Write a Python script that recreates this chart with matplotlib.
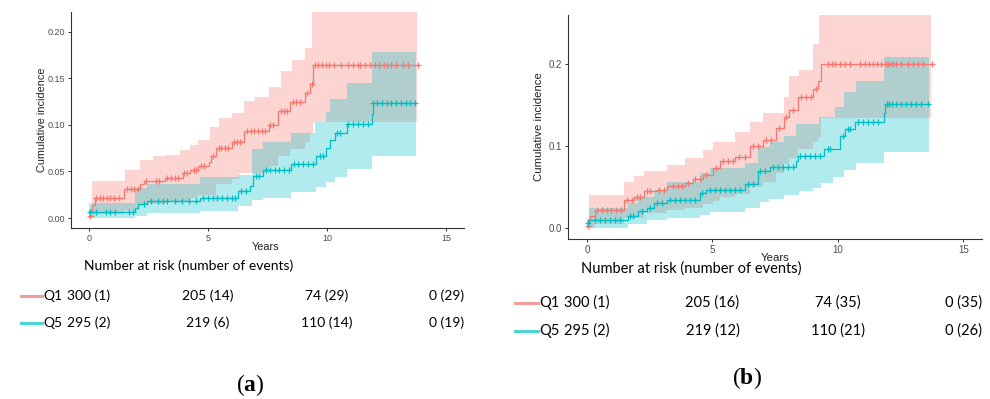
import numpy as np
import matplotlib
matplotlib.use("Agg")
import matplotlib.pyplot as plt
import matplotlib.transforms as mtransforms

plt.rcParams['mathtext.fontset'] = 'custom'
plt.rcParams['mathtext.bf'] = 'Liberation Serif:bold'
plt.rcParams['mathtext.rm'] = 'Liberation Serif'

RED = '#F8766D'
CYAN = '#00BFC4'

# ---------------- panel (a) ----------------
a_q1_t = [0, 0.06, 0.15, 0.27, 1.46, 2.16, 2.32, 3.18, 3.95, 4.26, 4.6, 5.03, 5.13, 5.33,
          6.0, 6.5, 7.55, 7.92, 8.46, 9.09, 9.3, 9.41, 13.82]
a_q1_y = [0.002, 0.007, 0.014, 0.022, 0.031, 0.036, 0.040, 0.043, 0.048, 0.052, 0.056, 0.060,
          0.066, 0.075, 0.081, 0.093, 0.100, 0.115, 0.124, 0.134, 0.144, 0.164, 0.164]
a_q1_hi_t = [0, 0.12, 1.53, 2.16, 2.71, 3.21, 3.84, 4.26, 4.6, 5.1, 5.45, 6.0, 6.5, 6.99,
             7.55, 8.08, 8.54, 9.09, 9.36, 13.78]
a_q1_hi_y = [0.010, 0.040, 0.051, 0.062, 0.066, 0.068, 0.073, 0.078, 0.084, 0.098, 0.107,
             0.113, 0.125, 0.130, 0.140, 0.158, 0.169, 0.182, 0.260, 0.260]
a_q1_lo_t = [0, 0.27, 1.46, 2.16, 3.18, 4.26, 4.6, 5.33, 6.0, 6.3, 7.55, 7.92, 8.46, 9.09,
             9.3, 9.41, 13.78]
a_q1_lo_y = [0.0, 0.004, 0.009, 0.015, 0.018, 0.021, 0.025, 0.036, 0.042, 0.048, 0.056, 0.066,
             0.074, 0.082, 0.090, 0.103, 0.103]

a_q5_t = [0, 1.95, 2.05, 2.44, 4.68, 6.25, 6.78, 6.88, 7.3, 8.5, 9.54, 9.96, 10.14, 10.32,
          10.84, 11.89, 11.93, 13.74]
a_q5_y = [0.006, 0.011, 0.015, 0.018, 0.022, 0.029, 0.034, 0.045, 0.051, 0.058, 0.066, 0.075,
          0.084, 0.091, 0.101, 0.112, 0.123, 0.123]
a_q5_hi_t = [0, 1.95, 2.44, 4.68, 6.25, 6.85, 7.3, 8.5, 9.5, 9.96, 10.14, 10.84, 11.89, 13.74]
a_q5_hi_y = [0.016, 0.032, 0.037, 0.044, 0.046, 0.074, 0.081, 0.091, 0.103, 0.114, 0.128,
             0.145, 0.178, 0.178]
a_q5_lo_t = [0, 1.95, 2.44, 4.68, 6.25, 6.85, 7.3, 8.5, 9.54, 9.96, 10.32, 10.84, 11.89, 13.74]
a_q5_lo_y = [0.0, 0.002, 0.005, 0.008, 0.013, 0.019, 0.021, 0.028, 0.033, 0.039, 0.044, 0.053,
             0.067, 0.067]

a_q1_cens = [0.05, 0.3, 0.45, 0.6, 0.75, 0.9, 1.05, 1.25, 1.6, 1.75, 1.9, 2.05, 2.4, 2.8, 2.95,
             3.3, 3.45, 3.6, 3.75, 4.0, 4.1, 4.4, 4.5, 4.7, 4.85, 5.2, 5.45, 5.55, 5.7, 5.85,
             6.1, 6.2, 6.35, 6.65, 6.8, 6.95, 7.1, 7.25, 7.4, 7.6, 7.75, 8.05, 8.2, 8.3, 8.55,
             8.7, 8.85, 9.15, 9.35, 9.5, 9.6, 9.8, 9.95, 10.1, 10.3, 10.6, 10.9, 11.1, 11.3,
             11.4, 11.6, 11.8, 12.0, 12.2, 12.4, 12.5, 12.7, 12.9, 13.2, 13.4, 13.8]
a_q5_cens = [0.05, 0.3, 0.7, 0.9, 1.1, 1.7, 1.85, 2.3, 2.6, 2.9, 3.1, 3.3, 3.6, 3.9, 4.2, 4.5,
             4.8, 5.0, 5.2, 5.4, 5.6, 5.8, 6.0, 6.15, 6.4, 6.6, 7.0, 7.15, 7.45, 7.6, 7.8, 8.0,
             8.2, 8.4, 8.6, 8.8, 9.0, 9.2, 9.4, 9.7, 9.85, 10.4, 10.55, 10.9, 11.1, 11.3, 11.5,
             11.7, 11.95, 12.1, 12.3, 12.5, 12.7, 12.9, 13.1, 13.3, 13.5, 13.7]

a_risk_q1 = [300, 205, 74, 0]
a_events_q1 = [1, 14, 29, 29]
a_risk_q5 = [295, 219, 110, 0]
a_events_q5 = [2, 6, 14, 19]

# ---------------- panel (b) ----------------
b_q1_t = [0, 0.04, 0.1, 0.33, 1.46, 1.86, 2.28, 2.78, 3.17, 3.9, 4.23, 4.63, 5.03, 5.29, 5.89,
          6.5, 7.01, 7.54, 7.87, 8.07, 8.4, 9.0, 9.19, 9.33, 13.76]
b_q1_y = [0.002, 0.010, 0.015, 0.022, 0.034, 0.038, 0.045, 0.047, 0.051, 0.055, 0.060, 0.065,
          0.073, 0.082, 0.087, 0.100, 0.107, 0.122, 0.136, 0.144, 0.160, 0.170, 0.180, 0.200,
          0.200]
b_q1_hi_t = [0, 0.07, 1.46, 1.86, 2.28, 3.17, 3.9, 4.63, 5.03, 5.89, 6.5, 7.01, 7.87, 8.07,
             8.47, 9.0, 9.26, 13.72]
b_q1_hi_y = [0.010, 0.040, 0.0565, 0.063, 0.070, 0.077, 0.085, 0.095, 0.105, 0.1175, 0.130,
             0.140, 0.160, 0.185, 0.193, 0.225, 0.300, 0.300]
b_q1_lo_t = [0, 0.33, 1.46, 2.28, 3.17, 3.9, 4.63, 5.03, 5.29, 5.89, 6.5, 7.01, 7.54, 7.87,
             8.07, 8.4, 9.0, 9.19, 9.33, 13.72]
b_q1_lo_y = [0.0, 0.005, 0.012, 0.018, 0.022, 0.025, 0.029, 0.033, 0.038, 0.042, 0.050, 0.056,
             0.067, 0.078, 0.085, 0.097, 0.105, 0.110, 0.134, 0.134]

b_q5_t = [0, 0.07, 1.65, 2.05, 2.38, 2.65, 3.17, 4.5, 4.76, 6.3, 6.8, 7.3, 8.33, 8.4, 9.43,
          10.1, 10.3, 10.7, 11.84, 11.88, 13.62]
b_q5_y = [0.006, 0.010, 0.015, 0.021, 0.025, 0.030, 0.034, 0.043, 0.047, 0.054, 0.069, 0.075,
          0.082, 0.088, 0.096, 0.112, 0.121, 0.129, 0.140, 0.151, 0.151]
b_q5_hi_t = [0, 0.07, 1.65, 2.05, 2.65, 3.17, 4.5, 4.9, 6.3, 6.8, 7.3, 7.87, 8.33, 9.26, 9.9,
             10.26, 10.72, 11.84, 13.62]
b_q5_hi_y = [0.012, 0.024, 0.030, 0.038, 0.046, 0.0565, 0.067, 0.073, 0.079, 0.099, 0.105,
             0.112, 0.127, 0.136, 0.148, 0.166, 0.180, 0.209, 0.209]
b_q5_lo_t = [0, 1.65, 2.38, 3.17, 4.5, 4.9, 6.3, 6.88, 7.27, 7.87, 8.47, 9.0, 9.33, 9.8, 10.26,
             10.72, 11.84, 13.62]
b_q5_lo_y = [0.0, 0.005, 0.010, 0.012, 0.016, 0.019, 0.024, 0.032, 0.036, 0.040, 0.045, 0.049,
             0.055, 0.0626, 0.0707, 0.079, 0.093, 0.093]

b_q1_cens = [0.03, 0.4, 0.6, 0.8, 0.95, 1.15, 1.35, 1.6, 1.8, 1.98, 2.1, 2.4, 2.5, 2.85, 3.05,
             3.44, 3.64, 3.8, 4.03, 4.3, 4.5, 4.76, 5.16, 5.42, 5.62, 5.82, 6.06, 6.28, 6.61,
             6.81, 7.14, 7.34, 7.67, 7.94, 8.2, 8.53, 8.73, 8.93, 9.13, 9.6, 9.75, 9.9, 10.1,
             10.3, 10.5, 10.9, 11.1, 11.25, 11.4, 11.55, 11.7, 11.9, 12.0, 12.1, 12.2, 12.3,
             12.5, 12.8, 13.0, 13.2, 13.4, 13.75]
b_q5_cens = [0.03, 0.3, 0.5, 0.7, 0.9, 1.1, 1.3, 1.7, 1.85, 2.2, 2.5, 2.8, 3.0, 3.3, 3.5, 3.7,
             3.9, 4.1, 4.3, 4.6, 4.9, 5.1, 5.3, 5.5, 5.7, 5.9, 6.1, 6.4, 6.6, 6.9, 7.1, 7.4,
             7.6, 7.8, 8.0, 8.2, 8.5, 8.7, 8.9, 9.1, 9.3, 9.6, 9.7, 10.2, 10.4, 10.5, 10.8,
             11.0, 11.2, 11.4, 11.6, 11.95, 12.05, 12.15, 12.3, 12.5, 12.7, 12.9, 13.1, 13.3,
             13.6]

b_risk_q1 = [300, 205, 74, 0]
b_events_q1 = [1, 16, 35, 35]
b_risk_q5 = [295, 219, 110, 0]
b_events_q5 = [2, 12, 21, 26]

risk_years = [0, 5, 10, 15]
groups = ['Q1', 'Q5']


def step_at(t, times, vals):
    idx = np.searchsorted(times, t, side='right') - 1
    return np.asarray(vals)[np.clip(idx, 0, len(vals) - 1)]


def draw_group(ax, t, y, lo_t, lo_y, hi_t, hi_y, cens, color):
    grid = np.union1d(lo_t, hi_t)
    ax.fill_between(grid, step_at(grid, lo_t, lo_y), step_at(grid, hi_t, hi_y),
                    step='post', color=color, alpha=0.3, lw=0)
    ax.step(t, y, where='post', color=color, lw=0.9)
    cens = np.asarray(cens)
    ax.plot(cens, step_at(cens, t, y), ls='none', marker='+', ms=5, mew=0.9, color=color)


def style_axes(ax, ylim, yticks, yfmt, tick_fs, lab_fs):
    ax.set_xlim(-0.75, 15.75)
    ax.set_ylim(*ylim)
    ax.set_xticks([0, 5, 10, 15])
    ax.set_yticks(yticks)
    ax.set_yticklabels([yfmt.format(v) for v in yticks])
    for s in ['top', 'right']:
        ax.spines[s].set_visible(False)
    for s in ['left', 'bottom']:
        ax.spines[s].set_color('#333333')
        ax.spines[s].set_linewidth(0.8)
    ax.tick_params(length=2.5, width=0.7, color='#333333', labelcolor='#4D4D4D',
                   labelsize=tick_fs, pad=2)
    for lab in ax.get_xticklabels() + ax.get_yticklabels():
        lab.set_family('Liberation Sans')
    ax.set_xlabel('Years', family='Liberation Sans', fontsize=lab_fs, color='#222222')
    ax.set_ylabel('Cumulative incidence', family='Liberation Sans', fontsize=lab_fs,
                  color='#222222')


def risk_table(fig, ax, title_xy, row_y, line_x, risks, events, fs):
    fig.text(title_xy[0], title_xy[1], 'Number at risk (number of events)', family='Lato',
             fontsize=fs, va='center', ha='left')
    tr = mtransforms.blended_transform_factory(ax.transData, fig.transFigure)
    line_cols = ['#F59E98', '#4DD4D6']
    for gi, g in enumerate(groups):
        yy = row_y[gi]
        fig.add_artist(plt.Line2D(line_x, [yy, yy], color=line_cols[gi], lw=2.2,
                                  transform=fig.transFigure))
        fig.text(line_x[1] + 0.001, yy, g, family='Lato', fontsize=fs, va='center', ha='left')
        for yr, r, e in zip(risk_years, risks[gi], events[gi]):
            ax.text(yr, yy, f'{r} ({e})', transform=tr, family='Lato', fontsize=fs,
                    va='center', ha='center')


fig = plt.figure(figsize=(9.9, 3.99), dpi=100)

# panel a
ax1 = fig.add_axes([0.0717, 0.4286, 0.397, 0.5414])
draw_group(ax1, a_q1_t, a_q1_y, a_q1_lo_t, a_q1_lo_y, a_q1_hi_t, a_q1_hi_y, a_q1_cens, RED)
draw_group(ax1, a_q5_t, a_q5_y, a_q5_lo_t, a_q5_lo_y, a_q5_hi_t, a_q5_hi_y, a_q5_cens, CYAN)
style_axes(ax1, (-0.0107, 0.221), [0.0, 0.05, 0.10, 0.15, 0.20], '{:.2f}', 6.5, 7.8)
ax1.xaxis.set_label_coords(0.494, -0.065)
ax1.yaxis.set_label_coords(-0.062, 0.5)
risk_table(fig, ax1, (0.0848, 0.3333), (0.2581, 0.1905), [0.0212, 0.0424],
           [a_risk_q1, a_risk_q5], [a_events_q1, a_events_q5], 10)
fig.text(0.2525, 0.035, r'($\mathbf{a}$)', family='Liberation Serif', fontsize=17,
         ha='center', va='center')

# panel b
ax2 = fig.add_axes([0.574, 0.4018, 0.418, 0.5606])
draw_group(ax2, b_q1_t, b_q1_y, b_q1_lo_t, b_q1_lo_y, b_q1_hi_t, b_q1_hi_y, b_q1_cens, RED)
draw_group(ax2, b_q5_t, b_q5_y, b_q5_lo_t, b_q5_lo_y, b_q5_hi_t, b_q5_hi_y, b_q5_cens, CYAN)
style_axes(ax2, (-0.013, 0.26), [0.0, 0.1, 0.2], '{:.1f}', 7, 8.2)
ax2.xaxis.set_label_coords(0.5, -0.065)
ax2.yaxis.set_label_coords(-0.058, 0.5)
risk_table(fig, ax2, (0.5869, 0.3258), (0.2406, 0.1704), [0.5202, 0.5434],
           [b_risk_q1, b_risk_q5], [b_events_q1, b_events_q5], 10.5)
fig.text(0.7545, 0.0526, r'($\mathbf{b}$)', family='Liberation Serif', fontsize=17,
         ha='center', va='center')

fig.savefig('out.png', dpi=100)
